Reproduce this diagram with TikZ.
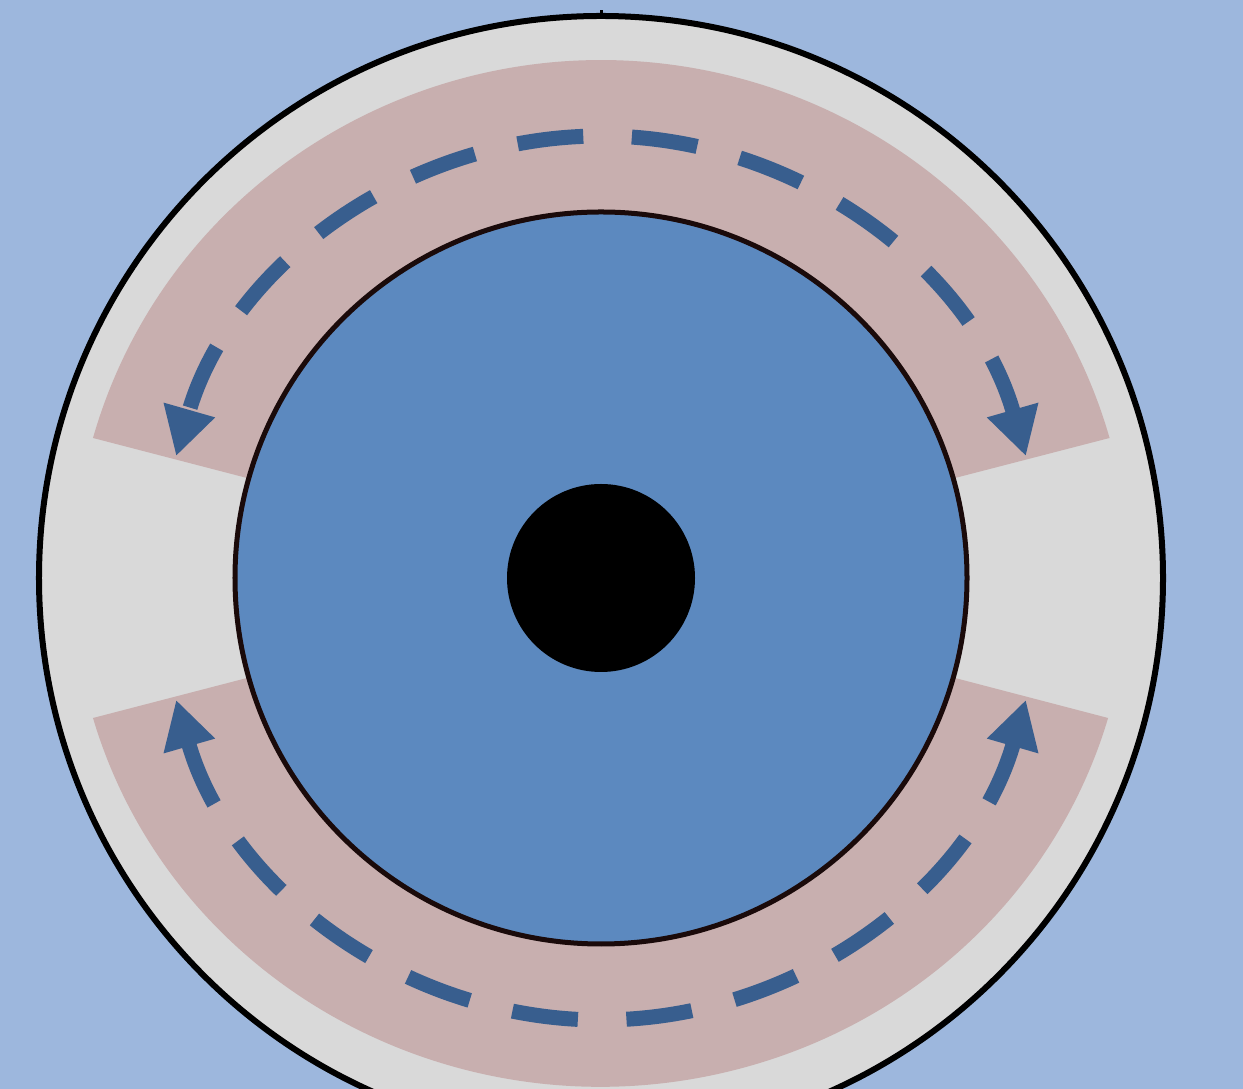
\documentclass[tikz,border=0pt]{standalone}
\usetikzlibrary{arrows.meta}
\definecolor{bgblue}{RGB}{157,183,221}
\definecolor{ringgrey}{RGB}{217,217,217}
\definecolor{sectorpink}{RGB}{200,175,175}
\definecolor{coreblue}{RGB}{92,137,191}
\definecolor{flowblue}{RGB}{56,94,142}
\definecolor{rimdark}{RGB}{26,10,10}
\begin{document}
\begin{tikzpicture}[x=0.01cm,y=0.01cm,
  flowarc/.style={draw=flowblue, line width=0.15cm, line cap=butt,
    dash pattern=on 0.66cm off 0.44cm,
    -{Triangle[length=0.48cm,width=0.5cm]}},
  sector/.style={fill=sectorpink, draw=none}]
\useasboundingbox (-601,-511) rectangle (642,578);
\clip (-601,-511) rectangle (642,578);
\fill[bgblue] (-601,-511) rectangle (642,578);
% outer ring
\coordinate (c) at (0,0);
\filldraw[fill=ringgrey, draw=black, line width=0.06cm] (c) circle[radius=562];
\draw[black, line width=0.03cm] (0,561) -- (0,568);
% pink sectors
\path[sector] (-354,100) -- (-508,140)
  arc[start angle=164.3, end angle=15.7, x radius=528, y radius=518]
  -- (354,100) -- (c) -- cycle;
\path[sector] (-354,-100) -- (-508,-140)
  arc[start angle=-164, end angle=-16, x radius=528, y radius=509]
  -- (354,-100) -- (c) -- cycle;
% core
\filldraw[fill=coreblue, draw=rimdark, line width=0.05cm] (c) circle[radius=366];
\fill[black] (c) circle[radius=94];
% flow arcs
\draw[flowarc] (92.3:442) arc[start angle=92.3, end angle=164, radius=442];
\draw[flowarc] (86:442) arc[start angle=86, end angle=16, radius=442];
\draw[flowarc] (-93:442) arc[start angle=-93, end angle=-164, radius=442];
\draw[flowarc] (-86.7:442) arc[start angle=-86.7, end angle=-16, radius=442];
\end{tikzpicture}
\end{document}
